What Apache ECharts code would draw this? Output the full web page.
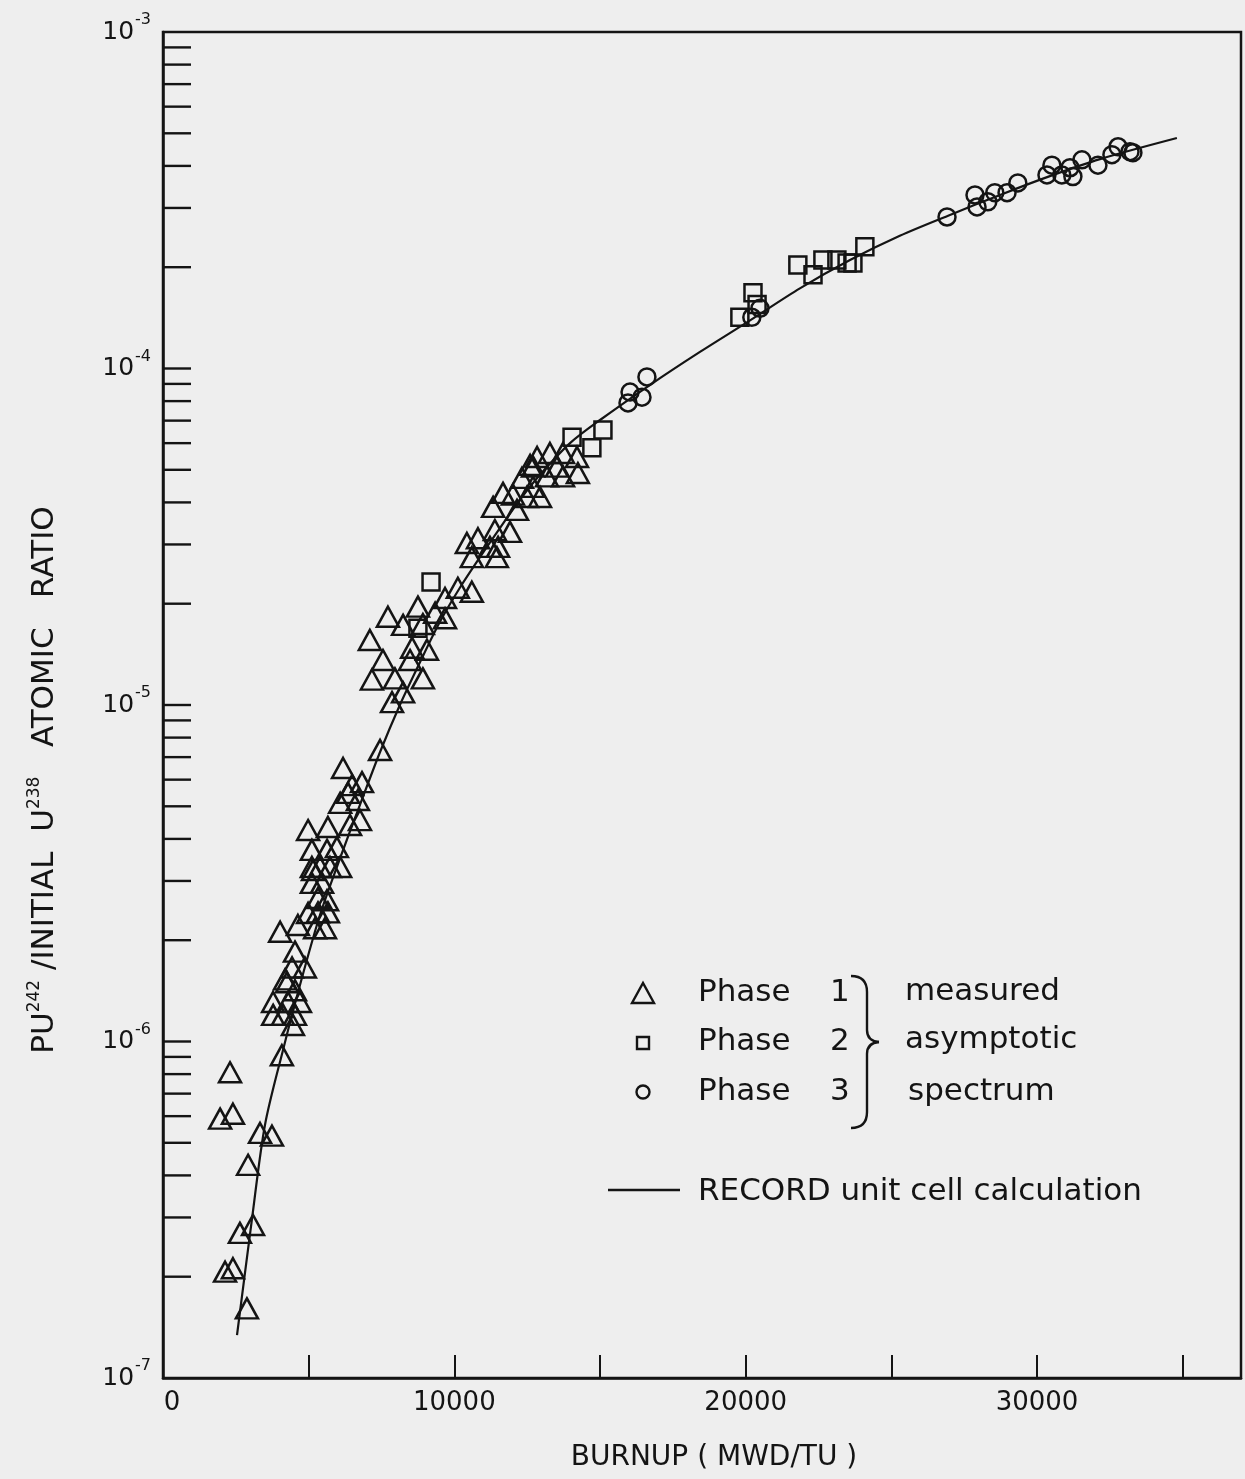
<!DOCTYPE html>
<html>
<head>
<meta charset="utf-8">
<script src="https://cdn.jsdelivr.net/npm/echarts@6/dist/echarts.min.js"></script>
<style>
html,body{margin:0;padding:0;background:#eeeeee;}
#c{width:1245px;height:1479px;}
</style>
</head>
<body>
<div id="c"></div>
<script>
// ---------- DATA ----------
const xLabelValues = [0, 10000, 20000, 30000];
const yMinorTicks = [
  2e-7,3e-7,4e-7,5e-7,6e-7,7e-7,8e-7,9e-7,
  1e-6,2e-6,3e-6,4e-6,5e-6,6e-6,7e-6,8e-6,9e-6,
  1e-5,2e-5,3e-5,4e-5,5e-5,6e-5,7e-5,8e-5,9e-5,
  1e-4,2e-4,3e-4,4e-4,5e-4,6e-4,7e-4,8e-4,9e-4
];

const phase1 = [
  [2300,8.1e-7],[1960,5.9e-7],[2400,6.1e-7],[2640,2.7e-7],[3090,2.85e-7],[2130,2.07e-7],
  [2400,2.12e-7],[2880,1.61e-7],[3330,5.35e-7],[3740,5.25e-7],[2920,4.3e-7],[4080,9.1e-7],
  [4460,1.12e-6],[3780,1.2e-6],[4120,1.2e-6],[4530,1.2e-6],[3780,1.31e-6],[4290,1.31e-6],
  [4700,1.31e-6],[4260,1.5e-6],[4430,1.66e-6],[4530,1.85e-6],[4870,1.66e-6],[4020,2.12e-6],
  [4630,2.22e-6],[5220,2.17e-6],[5560,2.17e-6],[4980,2.41e-6],[5320,2.42e-6],[5660,2.42e-6],
  [5320,2.67e-6],[5630,2.63e-6],[5110,2.96e-6],[5460,2.96e-6],[5110,3.3e-6],[5390,3.3e-6],
  [6080,3.3e-6],[4530,1.42e-6],[4190,1.53e-6],
  [6180,6.5e-6],[7450,7.35e-6],[6490,5.78e-6],[6830,5.9e-6],[6350,5.48e-6],[6080,5.12e-6],
  [6690,5.22e-6],[4980,4.25e-6],[5660,4.34e-6],[6420,4.4e-6],[6760,4.55e-6],[5110,3.71e-6],
  [5630,3.71e-6],[5970,3.78e-6],[5150,3.23e-6],[5730,3.3e-6],
  [7860,1.02e-5],[8240,1.09e-5],[7170,1.19e-5],[7960,1.2e-5],[8920,1.2e-5],[7550,1.36e-5],
  [8480,1.36e-5],[9060,1.46e-5],[7100,1.56e-5],[8240,1.73e-5],[8920,1.74e-5],[7720,1.83e-5],
  [8750,1.96e-5],[9340,1.88e-5],[9680,1.81e-5],[10120,2.23e-5],[10600,2.17e-5],[9680,2.08e-5],
  [8550,1.48e-5],
  [10430,3.03e-5],[10810,3.13e-5],[11220,2.95e-5],[11500,2.95e-5],[10600,2.75e-5],[11460,2.75e-5],
  [11330,3.88e-5],[11670,4.27e-5],[12010,4.22e-5],[11390,3.31e-5],[11910,3.27e-5],[12150,3.8e-5],
  [12490,4.15e-5],[12700,4.45e-5],[12940,4.15e-5],[12320,4.73e-5],[12600,5.17e-5],[12840,5.46e-5],
  [13280,5.61e-5],[13730,5.61e-5],[14210,5.46e-5],[14240,4.89e-5],[13730,4.78e-5],[13180,4.78e-5],
  [13520,5.11e-5],[12700,5.11e-5]
];

const phase2 = [
  [9200,2.32e-5],[8750,1.69e-5],[14040,6.25e-5],[14720,5.81e-5],[15100,6.56e-5],
  [19800,1.42e-4],[20250,1.68e-4],[20390,1.55e-4],[21790,2.03e-4],[22310,1.9e-4],
  [22650,2.1e-4],[23130,2.1e-4],[23480,2.06e-4],[23680,2.06e-4],[24090,2.3e-4]
];

const phase3 = [
  [15960,7.9e-5],[16030,8.51e-5],[16440,8.22e-5],[16610,9.44e-5],[20490,1.51e-4],[20210,1.42e-4],
  [26910,2.82e-4],[27870,3.28e-4],[27940,3.02e-4],[28310,3.13e-4],[28550,3.33e-4],[28970,3.33e-4],
  [29340,3.56e-4],[30340,3.76e-4],[30510,4.02e-4],[30850,3.76e-4],[31130,3.95e-4],[31540,4.17e-4],
  [32090,4.02e-4],[32570,4.32e-4],[32780,4.56e-4],[33190,4.41e-4],[33290,4.38e-4],[31230,3.72e-4]
];

const recordCalc = [
  [2540,1.34e-7],[3050,2.95e-7],[3500,5.65e-7],[4120,9.44e-7],[4700,1.47e-6],[5390,2.38e-6],
  [6080,3.51e-6],[6760,5.05e-6],[7450,7.25e-6],[8130,1.0e-5],[8820,1.34e-5],[9510,1.77e-5],
  [10190,2.23e-5],[10880,2.75e-5],[11570,3.36e-5],[12250,4.07e-5],[12940,4.83e-5],[13970,6.0e-5],
  [15000,7.03e-5],[16710,8.93e-5],[18430,1.12e-4],[20150,1.39e-4],[21860,1.73e-4],[23580,2.10e-4],
  [25290,2.48e-4],[27010,2.86e-4],[28730,3.28e-4],[30440,3.73e-4],[32160,4.19e-4],[34800,4.84e-4]
];

// ---------- CHART ----------
const INK = '#141414';
const FONT = 'DejaVu Sans';
const LFONT = '31px "DejaVu Sans"';
const chart = echarts.init(document.getElementById('c'), null, {renderer: 'canvas'});

const hollow = {color: 'rgba(0,0,0,0)', borderColor: INK, borderWidth: 2.5, opacity: 1};
const stroke = {fill: 'none', stroke: INK, lineWidth: 2.4};
function txt(x, y, s) {
  return {type: 'text', x: x, y: y, style: {text: s, font: LFONT, fill: INK, verticalAlign: 'middle'}};
}

const option = {
  backgroundColor: '#eeeeee',
  animation: false,
  textStyle: {fontFamily: FONT, color: INK},
  grid: {left: 163, top: 32, width: 1078, height: 1346, show: true,
         borderColor: INK, borderWidth: 2.5, backgroundColor: 'transparent'},
  xAxis: {
    type: 'value', min: 0, max: 37000, interval: 5000,
    name: 'BURNUP ( MWD/TU )', nameLocation: 'middle', nameGap: 66,
    nameTextStyle: {fontSize: 28, color: INK, fontFamily: FONT, padding: [0, 0, 0, 24]},
    axisLine: {show: true, lineStyle: {color: INK, width: 2.5}},
    axisTick: {show: true, inside: true, length: 23, lineStyle: {color: INK, width: 2}},
    axisLabel: {fontSize: 26, color: INK, fontFamily: FONT, margin: 12, showMaxLabel: false,
      formatter: v => xLabelValues.indexOf(v) >= 0 ? (v === 0 ? '{z|0}' : String(v)) : '',
      rich: {z: {fontSize: 26, fontFamily: FONT, color: INK, padding: [0, 0, 0, 18]}}},
    splitLine: {show: false}
  },
  yAxis: {
    type: 'log', logBase: 10, min: 1e-7, max: 1e-3,
    name: 'PU{s|242} /INITIAL  U{s|238}   ATOMIC   RATIO',
    nameLocation: 'middle', nameRotate: 90, nameGap: 100,
    nameTextStyle: {fontSize: 31, color: INK, fontFamily: FONT, padding: [0, 150, 0, 0],
      rich: {s: {fontSize: 17, fontFamily: FONT, color: INK, padding: [0, 0, 20, 0]}}},
    axisLine: {show: true, lineStyle: {color: INK, width: 2.5}},
    axisTick: {show: false},
    axisLabel: {
      margin: 12, color: INK, fontFamily: FONT,
      formatter: v => '{b|10}{s|-' + Math.round(-Math.log10(v)) + '}',
      rich: {
        b: {fontSize: 25, fontFamily: FONT, color: INK},
        s: {fontSize: 16, fontFamily: FONT, color: INK, padding: [0, 0, 24, 1]}
      }
    },
    splitLine: {show: false}
  },
  series: [
    {
      name: 'y ticks', type: 'custom', silent: true, clip: false, z: 1,
      data: yMinorTicks.map(v => [0, v]),
      renderItem: (params, api) => {
        const p = api.coord([api.value(0), api.value(1)]);
        return {type: 'line', shape: {x1: p[0], y1: p[1], x2: p[0] + 28, y2: p[1]},
                style: {stroke: INK, lineWidth: 2.4}};
      }
    },
    {
      name: 'RECORD unit cell calculation', type: 'line', data: recordCalc,
      smooth: 0.3, showSymbol: false, symbol: 'none', silent: true, z: 2,
      lineStyle: {color: INK, width: 2.2}
    },
    {
      name: 'Phase 1', type: 'scatter', data: phase1, symbol: 'triangle',
      symbolSize: [22, 20], itemStyle: hollow, silent: true, z: 3
    },
    {
      name: 'Phase 2', type: 'scatter', data: phase2, symbol: 'rect',
      symbolSize: 17, itemStyle: hollow, silent: true, z: 3
    },
    {
      name: 'Phase 3', type: 'scatter', data: phase3, symbol: 'circle',
      symbolSize: 17, itemStyle: hollow, silent: true, z: 3
    }
  ],
  graphic: [
    {type: 'polygon', shape: {points: [[632,1003],[654,1003],[643,983]]}, style: stroke},
    {type: 'rect', shape: {x: 637, y: 1037, width: 12, height: 12}, style: stroke},
    {type: 'circle', shape: {cx: 643, cy: 1092, r: 6.5}, style: stroke},
    txt(698, 993, 'Phase'), txt(830, 993, '1'),
    txt(698, 1042, 'Phase'), txt(830, 1042, '2'),
    txt(698, 1092, 'Phase'), txt(830, 1092, '3'),
    {type: 'bezierCurve', shape: {x1: 851, y1: 976, cpx1: 867, cpy1: 976, x2: 867, y2: 992}, style: stroke},
    {type: 'line', shape: {x1: 867, y1: 992, x2: 867, y2: 1030}, style: stroke},
    {type: 'bezierCurve', shape: {x1: 867, y1: 1030, cpx1: 867, cpy1: 1041, x2: 879, y2: 1042}, style: stroke},
    {type: 'bezierCurve', shape: {x1: 879, y1: 1042, cpx1: 867, cpy1: 1043, x2: 867, y2: 1054}, style: stroke},
    {type: 'line', shape: {x1: 867, y1: 1054, x2: 867, y2: 1112}, style: stroke},
    {type: 'bezierCurve', shape: {x1: 867, y1: 1112, cpx1: 867, cpy1: 1128, x2: 851, y2: 1128}, style: stroke},
    txt(905, 992, 'measured'),
    txt(905, 1040, 'asymptotic'),
    txt(908, 1092, 'spectrum'),
    {type: 'line', shape: {x1: 608, y1: 1190, x2: 680, y2: 1190}, style: stroke},
    txt(698, 1192, 'RECORD unit cell calculation')
  ]
};
chart.setOption(option);
</script>
</body>
</html>
